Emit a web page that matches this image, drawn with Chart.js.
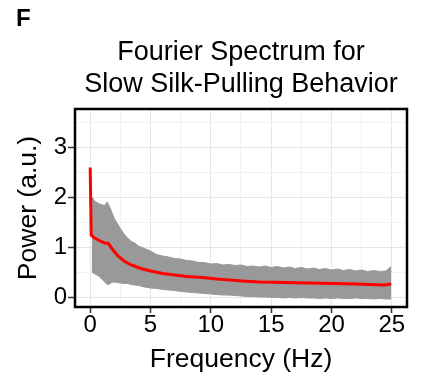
<!DOCTYPE html>
<html>
<head>
<meta charset="utf-8">
<script src="https://cdn.jsdelivr.net/npm/chart.js@4"></script>
<style>
 body { margin: 0; background: #fff; }
 #wrap { position: relative; width: 424px; height: 377px; }
 #panel { position: absolute; left: 16px; top: 6px; font: bold 24px/24px "Liberation Sans", Arial, sans-serif; color: #000; }
</style>
</head>
<body>
<div id="wrap">
 <canvas id="spectrum" width="424" height="377"></canvas>
 <div id="panel">F</div>
</div>
<script>
// mean spectrum (red line)
const meanFreq = [0, 0.08, 0.3, 0.6, 0.9, 1.2, 1.5, 1.8, 2.3, 2.8, 3.4, 4.2, 5.0, 6.0, 7.0, 8.0, 9.3, 10.5, 12.6, 14.0, 16.2, 18.0, 20.2, 22.0, 24.4, 24.95];
const meanPower = [2.6, 1.25, 1.20, 1.16, 1.12, 1.09, 1.08, 0.98, 0.83, 0.73, 0.65, 0.58, 0.53, 0.48, 0.45, 0.42, 0.40, 0.37, 0.33, 0.31, 0.30, 0.29, 0.28, 0.27, 0.25, 0.27];

// grey band (upper / lower)
const bandFreq = [0.13, 0.4, 0.7, 1.0, 1.2, 1.4, 1.6, 1.8, 2.0, 2.2, 2.5, 2.8, 3.1, 3.4, 3.7, 4.0, 4.5, 5.0,
 5.5, 6.0, 6.5, 7.0, 7.5, 8.0, 8.5, 9.0, 9.5, 10.0, 10.5, 11.0, 11.5, 12.0, 12.5, 13.0, 13.5, 14.0, 14.5, 15.0,
 15.5, 16.0, 16.5, 17.0, 17.5, 18.0, 18.5, 19.0, 19.5, 20.0, 20.5, 21.0, 21.5, 22.0, 22.5, 23.0, 23.5, 24.0, 24.5, 24.95];
const bandUpper = [2.01, 1.92, 1.88, 1.85, 1.84, 1.91, 1.82, 1.70, 1.58, 1.50, 1.38, 1.27, 1.19, 1.12, 1.09, 1.03, 0.98, 0.93,
 0.86, 0.83, 0.81, 0.78, 0.77, 0.74, 0.73, 0.70, 0.70, 0.67, 0.68, 0.65, 0.66, 0.64, 0.65, 0.62, 0.63, 0.61, 0.63, 0.60,
 0.62, 0.59, 0.61, 0.58, 0.60, 0.57, 0.59, 0.56, 0.58, 0.55, 0.57, 0.54, 0.56, 0.53, 0.55, 0.52, 0.54, 0.52, 0.53, 0.62];
const bandLower = [0.51, 0.47, 0.43, 0.36, 0.31, 0.26, 0.27, 0.30, 0.31, 0.30, 0.29, 0.28, 0.28, 0.26, 0.25, 0.24, 0.21, 0.19,
 0.18, 0.16, 0.15, 0.14, 0.12, 0.11, 0.10, 0.09, 0.08, 0.07, 0.06, 0.05, 0.05, 0.04, 0.03, 0.02, 0.02, 0.01, 0.01, 0.00,
 0.00, -0.01, 0.00, -0.01, 0.00, -0.01, -0.01, -0.02, -0.01, -0.02, -0.01, -0.02, -0.02, -0.01, -0.02, -0.02, -0.03, -0.02, -0.03, -0.03];

// axis labels
const xTickLabels = [0, 5, 10, 15, 20, 25];
const yTickLabels = [0, 1, 2, 3];

const font = "'Liberation Sans', Arial, sans-serif";

const toPoints = (xs, ys) => xs.map((x, i) => ({ x: x, y: ys[i] }));

// panel border like ggplot theme_bw
const frame = {
 id: "frame",
 afterDraw(chart) {
  const a = chart.chartArea, ctx = chart.ctx;
  ctx.save();
  ctx.strokeStyle = "#000";
  ctx.lineWidth = 2.5;
  ctx.strokeRect(a.left, a.top, a.right - a.left, a.bottom - a.top);
  ctx.restore();
 }
};

const isMajor = (list, v) => list.some(t => Math.abs(t - v) < 1e-6);

new Chart(document.getElementById("spectrum"), {
 type: "line",
 data: {
  datasets: [
   {
    data: toPoints(meanFreq, meanPower),
    borderColor: "#FF0000",
    borderWidth: 3,
    pointRadius: 0,
    tension: 0,
    fill: false
   },
   {
    data: toPoints(bandFreq, bandUpper),
    borderColor: "#999999",
    borderWidth: 1,
    backgroundColor: "#999999",
    pointRadius: 0,
    tension: 0,
    fill: { target: 2 }
   },
   {
    data: toPoints(bandFreq, bandLower),
    borderColor: "#999999",
    borderWidth: 1,
    pointRadius: 0,
    tension: 0,
    fill: false
   }
  ]
 },
 options: {
  responsive: false,
  animation: false,
  layout: { padding: { right: 17 } },
  plugins: {
   legend: { display: false },
   tooltip: { enabled: false },
   title: {
    display: true,
    fullSize: false,
    text: ["Fourier Spectrum for", "Slow Silk-Pulling Behavior"],
    color: "#000",
    font: { family: font, size: 27, weight: "normal", lineHeight: 1.185 },
    padding: { top: 37, bottom: 8 }
   }
  },
  scales: {
   x: {
    type: "linear",
    min: -1.26,
    max: 26.26,
    afterFit: s => { s.height = 70; },
    ticks: {
     stepSize: 2.5,
     includeBounds: false,
     autoSkip: false,
     maxRotation: 0,
     padding: 0,
     color: "#000",
     font: { family: font, size: 24, lineHeight: 1 },
     callback: v => isMajor(xTickLabels, v) ? String(v) : ""
    },
    grid: {
     color: c => isMajor(xTickLabels, c.tick.value) ? "#e6e6e6" : "#f1f1f1",
     tickColor: c => isMajor(xTickLabels, c.tick.value) ? "#333" : "rgba(0,0,0,0)",
     tickLength: 6,
     tickWidth: 1.5
    },
    border: { display: false },
    title: {
     display: true,
     text: "Frequency (Hz)",
     color: "#000",
     font: { family: font, size: 26.5 },
     padding: { top: 0, bottom: 1 }
    }
   },
   y: {
    min: -0.19,
    max: 3.77,
    afterFit: s => { s.width = 75; },
    ticks: {
     stepSize: 0.5,
     includeBounds: false,
     autoSkip: false,
     padding: 1,
     color: "#000",
     font: { family: font, size: 24 },
     callback: v => isMajor(yTickLabels, v) ? String(v) : ""
    },
    grid: {
     color: c => isMajor(yTickLabels, c.tick.value) ? "#e6e6e6" : "#f1f1f1",
     tickColor: c => isMajor(yTickLabels, c.tick.value) ? "#333" : "rgba(0,0,0,0)",
     tickLength: 7,
     tickWidth: 1.5
    },
    border: { display: false },
    title: {
     display: true,
     text: "Power (a.u.)",
     color: "#000",
     font: { family: font, size: 26.5 },
     padding: { top: 13, bottom: 0 }
    }
   }
  }
 },
 plugins: [frame]
});
</script>
</body>
</html>
